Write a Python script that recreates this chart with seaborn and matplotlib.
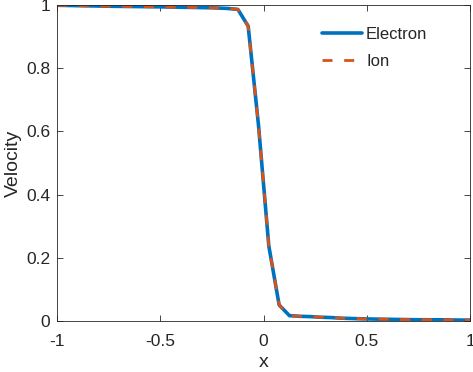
import numpy as np
import pandas as pd
import matplotlib
matplotlib.use("Agg")
import matplotlib.pyplot as plt
import seaborn as sns

# data
x_vals = [-1.0, -0.75, -0.5, -0.25, -0.175, -0.125, -0.075, -0.025, 0.025, 0.075, 0.125,
          0.175, 0.225, 0.275, 0.325, 0.375, 0.425, 0.475, 0.55, 0.65, 0.75, 0.85, 0.95, 1.0]
electron = [1.0, 0.997, 0.995, 0.992, 0.99, 0.987, 0.934, 0.62, 0.237, 0.05, 0.016,
            0.014, 0.013, 0.011, 0.010, 0.008, 0.007, 0.006, 0.005, 0.004, 0.003, 0.003, 0.002, 0.002]
ion = [1.0, 0.997, 0.995, 0.992, 0.99, 0.987, 0.934, 0.62, 0.237, 0.05, 0.016,
       0.014, 0.013, 0.011, 0.010, 0.008, 0.007, 0.006, 0.005, 0.004, 0.003, 0.003, 0.002, 0.002]

x_ticks = [-1, -0.5, 0, 0.5, 1]
x_tick_labels = ["-1", "-0.5", "0", "0.5", "1"]
y_ticks = [0, 0.2, 0.4, 0.6, 0.8, 1]
y_tick_labels = ["0", "0.2", "0.4", "0.6", "0.8", "1"]

df = pd.DataFrame({"x": x_vals, "Electron": electron, "Ion": ion})

sns.set_style("white")
plt.rcParams["font.family"] = ["Liberation Sans", "DejaVu Sans"]

fig = plt.figure(figsize=(4.73, 3.72), dpi=100)
ax = fig.add_axes([0.1211, 0.1379, 0.8726, 0.8479])

sns.lineplot(data=df, x="x", y="Electron", ax=ax, color="#0072BD", lw=2.6,
             label="Electron")
sns.lineplot(data=df, x="x", y="Ion", ax=ax, color="#D95319", lw=2.0,
             linestyle=(0, (3.6, 4.2)), label="Ion")

ax.set_xlim(-1, 1)
ax.set_ylim(0, 1)
ax.set_xticks(x_ticks)
ax.set_xticklabels(x_tick_labels)
ax.set_yticks(y_ticks)
ax.set_yticklabels(y_tick_labels)
ax.set_xlabel("x", fontsize=14, color="#262626", labelpad=4)
ax.set_ylabel("Velocity", fontsize=14, color="#262626", labelpad=3)

for s in ax.spines.values():
    s.set_color("#262626")
    s.set_linewidth(0.6)
    s.set_visible(True)
ax.tick_params(direction="in", length=4, width=0.6, color="#262626",
               labelsize=12.5, labelcolor="#262626", top=True, right=True,
               bottom=True, left=True, labeltop=False, labelright=False)
ax.tick_params(axis="x", pad=9.5)
ax.tick_params(axis="y", pad=5)

ax.legend(loc="upper left", bbox_to_anchor=(0.641, 0.932), frameon=False,
          fontsize=12, handlelength=2.4, handletextpad=0.25, labelspacing=0.75,
          borderaxespad=0, borderpad=0)

fig.savefig("out.png", dpi=100)
